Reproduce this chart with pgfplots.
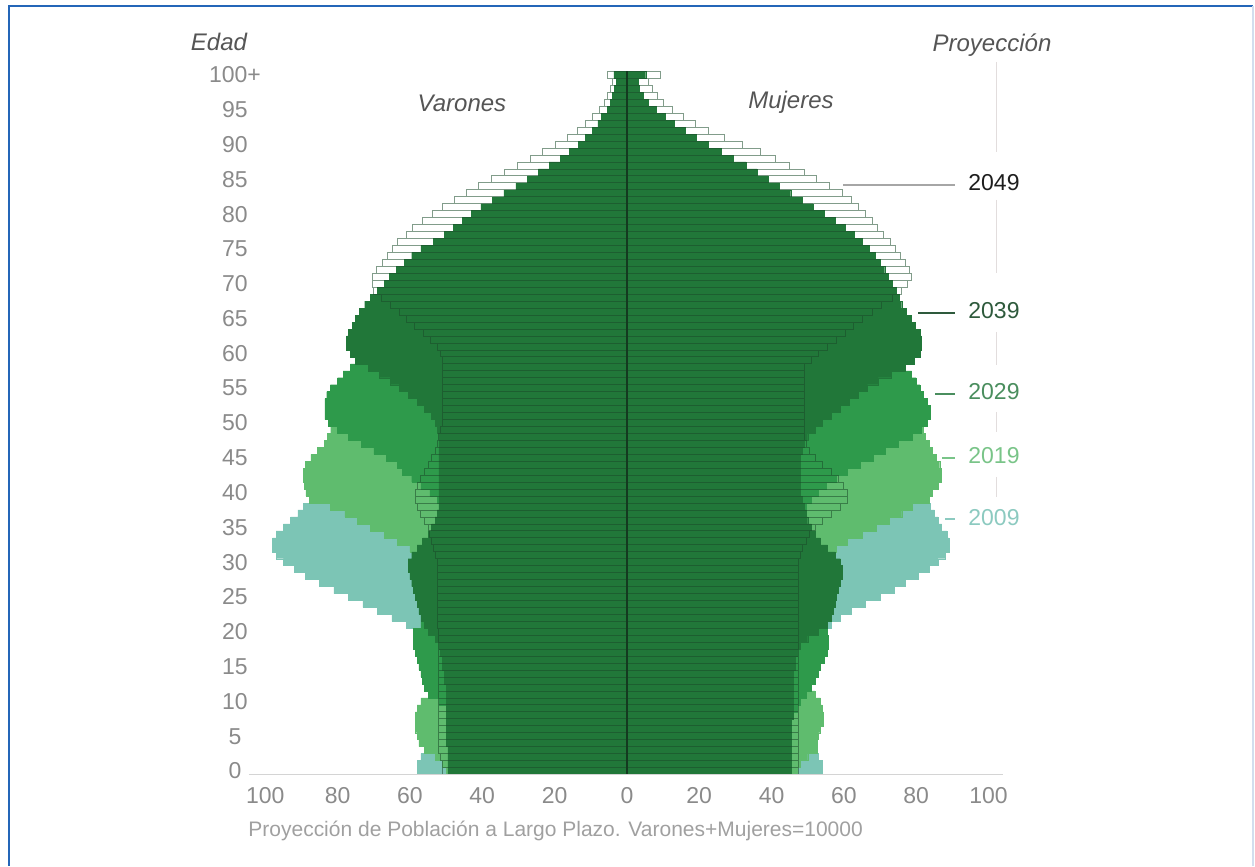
\documentclass[border=0pt]{standalone}
\usepackage{pgfplots}
\pgfplotsset{compat=1.18}
\usepackage{pgfplotstable}
\usepackage{fontspec}
\setmainfont{Liberation Sans}

\definecolor{c09}{HTML}{7CC5B5}
\definecolor{c19}{HTML}{5FBC6E}
\definecolor{c29}{HTML}{2E9A4B}
\definecolor{c39}{HTML}{217739}
\definecolor{c49}{HTML}{1A4A2A}
\definecolor{midline}{HTML}{143A20}
\definecolor{tickgray}{HTML}{8A8A8A}
\definecolor{labgray}{HTML}{555555}
\definecolor{capgray}{HTML}{A0A0A0}
\definecolor{basegray}{HTML}{D4D4D4}
\definecolor{vgray}{HTML}{E2DDDD}
\definecolor{y49}{HTML}{1E1E1E}
\definecolor{y39}{HTML}{2E5A3C}
\definecolor{y29}{HTML}{4A8E5E}
\definecolor{y19}{HTML}{79C488}
\definecolor{y09}{HTML}{8CCAC0}
\definecolor{framecol}{HTML}{2466B8}
\definecolor{framelight}{HTML}{D2DEEE}

% edad, varones (negativo) y mujeres por cada proyeccion
\pgfplotstableread{
age m09 f09 m19 f19 m29 f29 m39 f39 m49 f49
0 -58 54 -50 47 -45 42 -49.5 45.5 -51 47.5
1 -58 54 -51 48 -45.5 42.5 -49.5 45.5 -51 47.5
2 -57 53 -53 50 -46 43 -49.5 45.5 -51.5 47.5
3 -55 52 -56 52.5 -46.5 43.5 -49.5 45.5 -52 47.5
4 -53 50 -57.5 52.5 -47 44 -50 45.5 -52 47.5
5 -51 48 -58 53 -47.5 44.5 -50 45.5 -52 47.5
6 -50 47 -58.5 53.5 -48 45 -50 45.5 -52 47.5
7 -49 46 -58.5 54.3 -48.5 45.5 -50 45.5 -52 47.5
8 -48 45 -58.5 54.3 -49 46 -50 46 -52 47.5
9 -47 44 -58 54 -50 47 -50 46 -52 47.5
10 -47 44 -57 53.5 -52 48 -50 46 -52 47.5
11 -46 43 -55 52 -55 49.5 -50 46 -52 47.5
12 -46 43 -53 50 -56 51 -50 46 -52 47.5
13 -46 43 -51 48 -56.5 52 -50.5 46 -52 47.5
14 -47 44 -49 46 -57 53 -50.5 46 -52 47.5
15 -48 45 -47 45 -57.5 53.5 -51 46.5 -52 47.5
16 -49 46 -46 44 -58 54.5 -51 46.5 -52 47.5
17 -50 47 -45 43 -58.5 55.5 -51.5 47 -52 47.5
18 -52 49 -45 43 -59 55.7 -52 48 -52 47.5
19 -55 51 -45 43 -59 55.7 -53 50 -52 47.5
20 -58 54 -44 43 -59 55.5 -55 53 -52 47.5
21 -61 56.5 -45 43 -57 55 -56 55.5 -52.5 47.5
22 -65 59 -46 42.5 -55 54 -57 56.5 -52.5 47.5
23 -69 62 -46 42.5 -53 52.5 -57.5 57 -52.5 47.5
24 -73 66 -46.5 43 -51.5 51 -58 57.5 -52.5 47.5
25 -77 70 -47 44 -50.5 49.5 -58.5 58 -52.5 47.5
26 -81 74 -48 45 -49.5 48 -59 58.5 -52.5 47.5
27 -85 77 -49 46 -49 47 -59.5 59 -52.5 47.5
28 -89 80.5 -50 48 -48.5 46 -60 59.5 -52.5 47.5
29 -92 83.5 -52 50 -48 45.5 -60.5 59.5 -52.5 47.5
30 -95 86 -53.5 53 -48 45 -60.5 59 -52.5 47.5
31 -97 88 -56 55 -48 45 -59.5 57.5 -53 48
32 -98 89 -60 58 -48 45 -58 55.5 -53.5 48.5
33 -98 89 -63.5 61 -48 45 -56.5 53.5 -54 49.5
34 -97 88.5 -67 65 -48.5 45.5 -55 52 -54.5 50.5
35 -95 87 -71 69 -49 46 -54 51 -55 52
36 -93 86 -74.5 72.5 -49.5 47 -53 50 -56 54
37 -91 85 -78 76 -50 48 -52.5 49.5 -57 56.5
38 -89.5 84 -82 79 -51 49.5 -52 49 -58 59
39 -87.5 83 -87.8 83.5 -52.5 51 -52 48.5 -58.5 61
40 -86.5 83 -88.8 84.5 -54.5 53 -52 48 -58.5 61
41 -86 82.5 -89.2 86 -57 55 -52 48 -58 60
42 -85 82.5 -89.5 87 -59.5 58 -52 48 -57 58.5
43 -84 82 -89.5 87 -62 61 -52 48 -56 56.5
44 -83 81 -89 86.5 -63.5 64.5 -52 48 -55 54
45 -81.5 80 -87.4 85.5 -66.5 68 -52 48 -54 52
46 -80 79 -85.6 84.5 -70 71.5 -52 48.5 -53 50.5
47 -78 77 -83.7 83.5 -73.5 75 -52 49 -52.5 49.5
48 -76 75 -82.8 82.5 -77 79 -52 50 -52 49
49 -73 72 -81.9 82 -80 81.5 -52.5 52 -51.5 49
50 -70 70 -81 82 -82.5 83 -53 54 -51 49
51 -68 68 -80 81.5 -83.5 84 -54 56.5 -51 49
52 -66 66 -79 81 -83.5 84 -56 59 -51 49
53 -64 64 -78 80 -83.5 83 -58 61.5 -51 49
54 -62 63 -77 79 -83 82 -60.5 64 -51 49
55 -61 62 -75.4 78 -82 81 -63 66.5 -51 49
56 -60 61 -73.6 77 -80 80 -65.5 69.5 -51 49
57 -59 60 -71.8 75 -78.5 78.7 -68.5 73 -51 49
58 -58 59 -69.9 73 -76.5 76.5 -71.5 77 -51 49
59 -56 58 -67.2 70.5 -74.5 75.5 -75 79.5 -51 51
60 -54 56 -63.7 68.5 -72.5 74 -76.5 81 -51.5 53
61 -53 55 -61.9 66.5 -70.5 73 -77.5 81.4 -52.4 55.4
62 -52 54 -59.4 64.5 -68.5 72 -77.5 81.4 -54.3 57.8
63 -51 53 -57.6 62.5 -66.5 71 -77 81 -56.3 60.3
64 -50 52 -55.8 61.5 -64 70 -76 79.8 -58.7 62.7
65 -48 51 -54.3 60.5 -62 68 -75 78.5 -61 65
66 -44 47 -52.8 59.5 -60 66 -74 77.2 -63 67.8
67 -41 44 -51.3 58.5 -58 64 -72.5 76 -65.5 70.5
68 -39 42 -49.9 57.5 -56 62 -71 75.2 -68 73.5
69 -38 42 -47.6 56.5 -54 60 -69 74.5 -70.1 76
70 -38 42 -45.4 54.5 -52 58.5 -67 73.3 -70.4 77.5
71 -38 43 -44 53.5 -50.5 57.5 -65.7 72.3 -70.3 78.7
72 -37 43 -42.6 52.5 -49 56.5 -63.7 71.3 -69.3 78.2
73 -36 42 -40.8 51 -47.5 55.5 -61.5 70 -67.7 77
74 -35 42 -39.5 50 -46 54.5 -59.5 68.7 -66.3 75.7
75 -34 42 -37 48.5 -44 53 -57 67 -64.8 74.2
76 -33 41 -33 44.5 -42.5 52 -53.5 65 -63.5 72.8
77 -31 40 -30 41.5 -41 50.5 -50.5 62.8 -61.1 71
78 -29 39 -27.3 39.5 -39 49 -48 60.5 -59.2 69.3
79 -27 37 -25.8 39 -37 47 -45.5 57.5 -56.6 67.8
80 -25 35 -24.7 38.5 -35 45 -43 54.5 -53.9 66
81 -23 33 -23.6 38.5 -33 42 -40.4 51.5 -50.9 64
82 -21 31 -21.5 38 -31 38 -37.2 48.5 -47.7 62
83 -19 29 -19.8 36 -28 35 -34 45.3 -44.5 59.5
84 -17 27 -17.9 35 -25 32 -30.7 42.2 -41 56
85 -15 24 -16 33.5 -22 30 -27.5 39 -37.6 52.5
86 -13 22 -14.2 31.5 -19 28 -24.5 36 -34 49
87 -11 19 -12.1 29 -17 26 -21.5 33 -30.3 45
88 -9 16 -10.2 26.5 -15 24 -18.5 29.5 -26.6 41
89 -7.5 14 -8.4 23.5 -13.5 22 -16 26 -23.4 37
90 -6 12 -6.8 20.5 -12 18 -13.5 22.5 -19.7 32
91 -4.8 10 -5.3 17.5 -10.5 15.5 -11.5 19.3 -16.5 27
92 -3.8 8 -4 14.5 -9 13 -9.5 16 -13.7 22.5
93 -3 6 -3 12 -7.5 11 -8 13 -11.5 19
94 -2.3 5 -2.2 9.5 -6 9 -7 10.5 -9.5 15.5
95 -1.7 4 -1.5 7.5 -4.5 7 -5.5 8 -7.7 12.5
96 -1.2 3 -1.1 5.5 -3.5 5.3 -4.5 6 -6.2 10
97 -0.9 2 -0.8 4 -2.5 4 -4 4.5 -5.4 8.3
98 -0.6 1.5 -0.5 3 -1.8 3 -3.5 3.5 -4.6 7
99 -0.4 1 -0.35 2 -1.2 2.2 -3 3 -4 6
100 -0.8 2 -1.2 3 -3 4 -3.6 5.2 -5.5 9.3
}\pyr

\begin{document}
\begin{tikzpicture}
% marco en pixeles de la imagen original
\begin{scope}[shift={(-124.5pt,387.25pt)}, x=0.5pt, y=-0.5pt]
  \path[use as bounding box] (0,0) rectangle (1255,866);
\end{scope}

\begin{axis}[
  at={(0,0)}, anchor=south west,
  width=377pt, height=351.5pt, scale only axis,
  xmin=-104.5, xmax=104, ymin=-0.5, ymax=100.5,
  clip=false,
  axis line style={draw=none},
  tick style={draw=none},
  xtick={-100,-80,...,100},
  xticklabels={100,80,60,40,20,0,20,40,60,80,100},
  ytick={0,5,...,100},
  yticklabels={0,5,10,15,20,25,30,35,40,45,50,55,60,65,70,75,80,85,90,95,100+},
  ticklabel style={font=\fontsize{11.5}{13}\selectfont, text=tickgray},
  yticklabel style={anchor=center, xshift=-7pt},
  xticklabel style={yshift=-3pt},
  /pgf/number format/assume math mode=true,
  pyr/.style={xbar, bar width=1, bar shift=0pt, fill=#1, draw=#1, line width=0.2pt},
]
  % 2009
  \addplot[pyr=c09] table[x=m09,y=age]{\pyr};
  \addplot[pyr=c09] table[x=f09,y=age]{\pyr};
  % 2019
  \addplot[pyr=c19] table[x=m19,y=age]{\pyr};
  \addplot[pyr=c19] table[x=f19,y=age]{\pyr};
  % 2029
  \addplot[pyr=c29] table[x=m29,y=age]{\pyr};
  \addplot[pyr=c29] table[x=f29,y=age]{\pyr};
  % 2039
  \addplot[pyr=c39] table[x=m39,y=age]{\pyr};
  \addplot[pyr=c39] table[x=f39,y=age]{\pyr};
  % 2049, solo contorno
  \addplot[xbar, bar width=1, bar shift=0pt, fill=none, draw=c49, draw opacity=0.55, line width=0.4pt] table[x=m49,y=age]{\pyr};
  \addplot[xbar, bar width=1, bar shift=0pt, fill=none, draw=c49, draw opacity=0.55, line width=0.4pt] table[x=f49,y=age]{\pyr};

  \draw[midline, line width=0.7pt] (axis cs:0,-0.5) -- (axis cs:0,100.5);
  \draw[basegray, line width=0.9pt] (axis cs:-104.5,-0.5) -- (axis cs:104,-0.5);
\end{axis}

\begin{scope}[shift={(-124.5pt,387.25pt)}, x=0.5pt, y=-0.5pt]
  % marco azul
  \draw[framecol, line width=0.8pt] (9,866) -- (9,6) -- (1253,6);
  \draw[framelight, line width=0.6pt] (1253,6) -- (1253,866);

  \node[text=labgray, font=\fontsize{12}{14}\selectfont\itshape] at (219,42) {Edad};
  \node[text=labgray, font=\fontsize{12}{14}\selectfont\itshape] at (992,45) {Proyección};
  \node[text=labgray, font=\fontsize{12}{14}\selectfont\itshape] at (462,103) {Varones};
  \node[text=labgray, font=\fontsize{12}{14}\selectfont\itshape] at (791,102) {Mujeres};

  % guias de los años
  \draw[vgray, line width=0.5pt] (996,62) -- (996,152);
  \draw[vgray, line width=0.5pt] (996,200) -- (996,273);
  \draw[vgray, line width=0.5pt] (996,332) -- (996,365);
  \draw[vgray, line width=0.5pt] (996,412) -- (996,432);
  \draw[vgray, line width=0.5pt] (996,477) -- (996,497);

  \draw[gray!70, line width=0.6pt] (843,185) -- (955,185);
  \draw[y39, line width=0.6pt] (918,313) -- (955,313);
  \draw[y29, line width=0.6pt] (935,394) -- (955,394);
  \draw[y19, line width=0.6pt] (942,458) -- (955,458);
  \draw[y09, line width=0.6pt] (945,519) -- (955,519);

  \begin{scope}[every node/.style={anchor=west, inner sep=0pt, font=\fontsize{11.5}{13}\selectfont}]
    \node[text=y49] at (968,183) {2049};
    \node[text=y39] at (968,311) {2039};
    \node[text=y29] at (968,392) {2029};
    \node[text=y19] at (968,456) {2019};
    \node[text=y09] at (968,518) {2009};
  \end{scope}

  \node[anchor=west, inner sep=0pt, text=capgray, font=\fontsize{10.5}{12}\selectfont] at (248,831)
    {Proyección de Población a Largo Plazo. Varones+Mujeres=10000};
\end{scope}
\end{tikzpicture}
\end{document}
